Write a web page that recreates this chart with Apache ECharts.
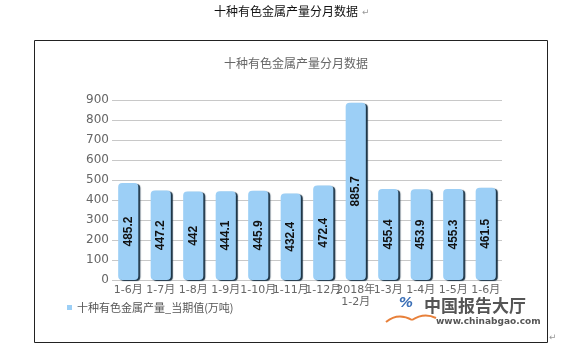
<!DOCTYPE html>
<html>
<head>
<meta charset="utf-8">
<script src="https://cdn.jsdelivr.net/npm/echarts@6/dist/echarts.min.js"></script>
<style>
  html, body { margin: 0; padding: 0; background: #fff; }
  #main { width: 580px; height: 352px; }
</style>
</head>
<body>
<div id="main"></div>
<script>
// 月份类目
var categories = ["1-6月", "1-7月", "1-8月", "1-9月", "1-10月", "1-11月", "1-12月",
  "2018年\n1-2月", "1-3月", "1-4月", "1-5月", "1-6月"];
// 十种有色金属产量_当期值(万吨)
var values = [485.2, 447.2, 442, 444.1, 445.9, 432.4, 472.4, 885.7, 455.4, 453.9, 455.3, 461.5];
var yTicks = [0, 900, 100]; // min, max, interval

var font = "'DejaVu Sans', 'Noto Sans CJK SC', sans-serif";
var cjk = "'Noto Sans CJK SC', sans-serif";
var chart = echarts.init(document.getElementById("main"));

var option = {
  animation: false,
  textStyle: { fontFamily: font },
  title: {
    text: "十种有色金属产量分月数据",
    left: 219,
    top: 52,
    textStyle: { fontSize: 12, fontWeight: "normal", color: "#666", fontFamily: cjk }
  },
  legend: {
    left: 62,
    top: 297,
    itemWidth: 5,
    itemHeight: 5,
    itemGap: 4,
    icon: "rect",
    textStyle: { fontSize: 11, color: "#555", fontFamily: cjk },
    data: ["十种有色金属产量_当期值(万吨)"]
  },
  grid: { left: 112, right: 78, top: 100, bottom: 72 },
  xAxis: {
    type: "category",
    data: categories,
    axisLine: { show: false },
    axisTick: { show: false },
    axisLabel: { interval: 0, color: "#666", fontSize: 11, margin: 4, lineHeight: 12, hideOverlap: false }
  },
  yAxis: {
    type: "value",
    min: yTicks[0],
    max: yTicks[1],
    interval: yTicks[2],
    axisLine: { show: false },
    axisTick: { show: false },
    axisLabel: { color: "#666", fontSize: 12, margin: 3 },
    splitLine: { lineStyle: { color: "#c8c8c8" } }
  },
  series: [{
    name: "十种有色金属产量_当期值(万吨)",
    type: "bar",
    data: values,
    barCategoryGap: "38%",
    itemStyle: {
      color: "#9ccff6",
      borderRadius: 4,
      shadowColor: "#1c3446",
      shadowOffsetX: 2,
      shadowOffsetY: 1,
      shadowBlur: 1
    },
    label: {
      show: true,
      position: "inside",
      rotate: 90,
      color: "#111",
      fontWeight: "bold",
      fontSize: 12,
      fontFamily: "'Liberation Sans', Arial, sans-serif"
    }
  }],
  graphic: [
    {
      type: "rect",
      shape: { x: 34.5, y: 40.5, width: 513, height: 302 },
      style: { fill: "none", stroke: "#222", lineWidth: 1 },
      z: -1
    },
    {
      type: "text",
      left: 214, top: 5,
      style: { text: "十种有色金属产量分月数据", fill: "#111", fontSize: 12, fontFamily: cjk }
    },
    {
      type: "text",
      left: 362, top: 8,
      style: { text: "↵", fill: "#999", fontSize: 9, fontFamily: font }
    },
    {
      type: "text",
      left: 549, top: 333,
      style: { text: "↵", fill: "#999", fontSize: 9, fontFamily: font }
    },
    // logo 图标
    {
      type: "text",
      left: 399, top: 296,
      style: { text: "%", fill: "#3b6fb6", fontSize: 14, fontStyle: "italic", fontWeight: "bold", fontFamily: font }
    },
    {
      type: "bezierCurve",
      shape: { x1: 386, y1: 322, x2: 412, y2: 320, cpx1: 398, cpy1: 312 },
      style: { fill: "none", stroke: "#e8803a", lineWidth: 2 }
    },
    {
      type: "bezierCurve",
      shape: { x1: 412, y1: 320, x2: 436, y2: 318, cpx1: 424, cpy1: 312 },
      style: { fill: "none", stroke: "#e8803a", lineWidth: 2 }
    },
    {
      type: "text",
      left: 424, top: 297,
      style: { text: "中国报告大厅", fill: "#555", fontSize: 17, fontWeight: "bold", fontFamily: cjk }
    },
    {
      type: "text",
      left: 436, top: 317,
      style: { text: "www.chinabgao.com", fill: "#555", fontSize: 9, fontWeight: "bold", fontFamily: font }
    }
  ]
};
chart.setOption(option);
</script>
</body>
</html>
